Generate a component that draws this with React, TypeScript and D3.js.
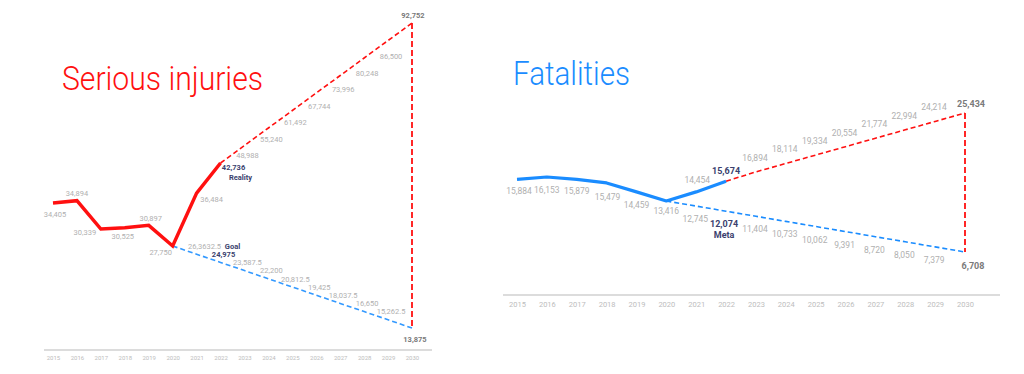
import React, {useEffect, useRef} from 'react';
import * as d3 from 'd3';

// axis years
const years = [2015, 2016, 2017, 2018, 2019, 2020, 2021, 2022, 2023, 2024, 2025, 2026, 2027, 2028, 2029, 2030];

// serious injuries
const injuryHistory = [34405, 34894, 30339, 30525, 30897, 27750, 36484, 42736]; // 2015-2022
const injuryTrend = [42736, 48988, 55240, 61492, 67744, 73996, 80248, 86500, 92752]; // 2022-2030
const injuryGoal = [27750, 26362.5, 24975, 23587.5, 22200, 20812.5, 19425, 18037.5, 16650, 15262.5, 13875]; // 2020-2030
// the source slide prints the 2021 goal value this way
const injuryGoalLabels = ['', '26,3632.5', '24,975', '23,587.5', '22,200', '20,812.5', '19,425', '18,037.5', '16,650', '15,262.5', '13,875'];

// fatalities
const fatalityHistory = [15884, 16153, 15879, 15479, 14459, 13416, 14454, 15674]; // 2015-2022
const fatalityTrend = [15674, 16894, 18114, 19334, 20554, 21774, 22994, 24214, 25434]; // 2022-2030
const fatalityMeta = [13416, 12745, 12074, 11404, 10733, 10062, 9391, 8720, 8050, 7379, 6708]; // 2020-2030

// label nudges for the solid lines (label centre relative to point)
const injuryLabelNudge: [number, number][] = [[2, 11], [0, -7], [-16, 3], [-2, 9], [2, -7], [-12, 6], [15, 6], [13, 4]];
const fatalityLabelNudge: [number, number][] = [[2, 12], [0, 13], [0, 12], [1, 14], [0, 13], [0, 10], [1, -12], [0, -10]];

const RED = '#ff1010';
const BLUE = '#1a8cff';
const LIGHT_BLUE = '#3399ff';
const NAVY = '#3b3f6e';
const GRAY = '#b0b0b0';
const DARK_GRAY = '#7a7a7a';
const AXIS = '#dcdcdc';
const FONT = 'Roboto, "Open Sans", sans-serif';

const fmt = d3.format(',');

type Pt = [number, number];

const Axis: React.FC<{
  x: d3.ScaleLinear<number, number>;
  y: number;
  x0: number;
  x1: number;
  size: number;
  pad: number;
}> = ({x, y, x0, x1, size, pad}) => {
  const ref = useRef<SVGGElement>(null);
  useEffect(() => {
    if (!ref.current) return;
    const g = d3.select(ref.current);
    g.selectAll('*').remove();
    g.call(
      d3
        .axisBottom(x)
        .tickValues(years)
        .tickFormat(d3.format('d'))
        .tickSize(0)
        .tickPadding(pad),
    );
    g.select('.domain').remove();
    g.selectAll('text')
      .attr('fill', '#bdbdbd')
      .attr('font-size', size)
      .attr('font-family', FONT);
  }, [x, size, pad]);
  return (
    <g>
      <line x1={x0} x2={x1} y1={y} y2={y} stroke={AXIS} strokeWidth={2} />
      <g ref={ref} transform={`translate(0,${y})`} />
    </g>
  );
};

const SeriousInjuries = () => {
  const x = d3.scaleLinear().domain([2015, 2030]).range([53, 412]);
  const y = d3
    .scaleLinear()
    .domain([13875, 27750, 34000, 42736, 92752])
    .range([328, 246, 205, 163, 23]);
  const line = d3
    .line<Pt>()
    .x((d) => x(d[0]))
    .y((d) => y(d[1]));

  const hist: Pt[] = injuryHistory.map((v, i) => [years[i], v]);
  const trend: Pt[] = injuryTrend.map((v, i) => [years[i + 7], v]);
  const goal: Pt[] = injuryGoal.map((v, i) => [years[i + 5], v]);
  const last = years[years.length - 1];

  return (
    <g fontFamily={FONT}>
      <text x={62} y={90} fontSize={34} fontWeight={300} fill={RED} textLength={201} lengthAdjust="spacingAndGlyphs">
        Serious injuries
      </text>
      <Axis x={x} y={350} x0={44} x1={432} size={6} pad={6} />

      <path d={line(goal) || ''} fill="none" stroke={LIGHT_BLUE} strokeWidth={1.6} strokeDasharray="5 3" />
      <path d={line(trend) || ''} fill="none" stroke={RED} strokeWidth={1.6} strokeDasharray="5 3" />
      <path
        d={line([[last, injuryTrend[injuryTrend.length - 1]], [last, injuryGoal[injuryGoal.length - 1]]]) || ''}
        fill="none"
        stroke={RED}
        strokeWidth={1.8}
        strokeDasharray="6 3"
      />
      <path d={line(hist) || ''} fill="none" stroke={RED} strokeWidth={3.5} strokeLinejoin="miter" />

      {/* history labels */}
      {hist.map((d, i) => {
        const bold = i === hist.length - 1;
        return (
          <text
            key={`h${i}`}
            x={x(d[0]) + injuryLabelNudge[i][0]}
            y={y(d[1]) + injuryLabelNudge[i][1]}
            textAnchor="middle"
            dominantBaseline="central"
            fontSize={7.5}
            fontWeight={bold ? 700 : 400}
            fill={bold ? NAVY : GRAY}
          >
            {fmt(d[1])}
          </text>
        );
      })}
      <text x={x(2022) + 20} y={y(42736) + 14} textAnchor="middle" dominantBaseline="central" fontSize={7.5} fontWeight={700} fill={NAVY}>
        Reality
      </text>

      {/* trend labels, drifting further below the line as it climbs */}
      {trend.slice(1, -1).map((d, i) => (
        <text key={`t${i}`} x={x(d[0]) + 3} y={y(d[1]) + 10 + i} textAnchor="middle" dominantBaseline="central" fontSize={7.5} fill={GRAY}>
          {fmt(d[1])}
        </text>
      ))}
      <text x={x(last) + 1} y={y(92752) - 8} textAnchor="middle" dominantBaseline="central" fontSize={7.5} fontWeight={700} fill={DARK_GRAY}>
        {fmt(92752)}
      </text>

      {/* goal labels */}
      {goal.slice(1, -1).map((d, i) => {
        const bold = d[0] === 2022;
        return (
          <text
            key={`g${i}`}
            x={x(d[0]) + (i === 0 ? 8 : 3)}
            y={y(d[1]) - 8}
            textAnchor="middle"
            dominantBaseline="central"
            fontSize={7.5}
            fontWeight={bold ? 700 : 400}
            fill={bold ? NAVY : GRAY}
          >
            {injuryGoalLabels[i + 1]}
          </text>
        );
      })}
      <text x={x(2022) + 12} y={y(24975) - 16} textAnchor="middle" dominantBaseline="central" fontSize={7.5} fontWeight={700} fill={NAVY}>
        Goal
      </text>
      <text x={x(last) + 3} y={y(13875) + 11} textAnchor="middle" dominantBaseline="central" fontSize={7.5} fontWeight={700} fill={DARK_GRAY}>
        {injuryGoalLabels[injuryGoalLabels.length - 1]}
      </text>
    </g>
  );
};

const Fatalities = () => {
  const x = d3.scaleLinear().domain([2015, 2030]).range([517, 965]);
  const y = d3
    .scaleLinear()
    .domain([6708, 13416, 16153, 25434])
    .range([252, 201, 177, 113]);
  const line = d3
    .line<Pt>()
    .x((d) => x(d[0]))
    .y((d) => y(d[1]));

  const hist: Pt[] = fatalityHistory.map((v, i) => [years[i], v]);
  const trend: Pt[] = fatalityTrend.map((v, i) => [years[i + 7], v]);
  const meta: Pt[] = fatalityMeta.map((v, i) => [years[i + 5], v]);
  const last = years[years.length - 1];

  return (
    <g fontFamily={FONT}>
      <text x={513} y={85} fontSize={34} fontWeight={300} fill={BLUE} textLength={117} lengthAdjust="spacingAndGlyphs">
        Fatalities
      </text>
      <Axis x={x} y={295} x0={503} x1={1000} size={7.5} pad={7} />

      <path d={line(meta) || ''} fill="none" stroke={BLUE} strokeWidth={1.6} strokeDasharray="5 3" />
      <path d={line(trend) || ''} fill="none" stroke={RED} strokeWidth={1.6} strokeDasharray="5 3" />
      <path
        d={line([[last, fatalityTrend[fatalityTrend.length - 1]], [last, fatalityMeta[fatalityMeta.length - 1]]]) || ''}
        fill="none"
        stroke={RED}
        strokeWidth={1.8}
        strokeDasharray="6 3"
      />
      <path d={line(hist) || ''} fill="none" stroke={BLUE} strokeWidth={3.2} strokeLinejoin="round" />

      {hist.map((d, i) => {
        const bold = i === hist.length - 1;
        return (
          <text
            key={`h${i}`}
            x={x(d[0]) + fatalityLabelNudge[i][0]}
            y={y(d[1]) + fatalityLabelNudge[i][1]}
            textAnchor="middle"
            dominantBaseline="central"
            fontSize={bold ? 9 : 8.5}
            fontWeight={bold ? 700 : 400}
            fill={bold ? NAVY : GRAY}
          >
            {fmt(d[1])}
          </text>
        );
      })}

      {trend.slice(1, -1).map((d, i) => (
        <text key={`t${i}`} x={x(d[0]) - 1} y={y(d[1]) - 14} textAnchor="middle" dominantBaseline="central" fontSize={8.5} fill={GRAY}>
          {fmt(d[1])}
        </text>
      ))}
      <text x={x(last) + 6} y={y(25434) - 9} textAnchor="middle" dominantBaseline="central" fontSize={9} fontWeight={700} fill={DARK_GRAY}>
        {fmt(25434)}
      </text>

      {meta.slice(1, -1).map((d, i) => {
        const bold = d[0] === 2022;
        return (
          <text
            key={`m${i}`}
            x={x(d[0]) - (bold ? 2 : 1)}
            y={y(d[1]) + 13}
            textAnchor="middle"
            dominantBaseline="central"
            fontSize={bold ? 9 : 8.5}
            fontWeight={bold ? 700 : 400}
            fill={bold ? NAVY : GRAY}
          >
            {fmt(d[1])}
          </text>
        );
      })}
      <text x={x(2022) - 2} y={y(12074) + 24} textAnchor="middle" dominantBaseline="central" fontSize={9} fontWeight={700} fill={NAVY}>
        Meta
      </text>
      <text x={x(last) + 8} y={y(6708) + 14} textAnchor="middle" dominantBaseline="central" fontSize={9} fontWeight={700} fill={DARK_GRAY}>
        {fmt(6708)}
      </text>
    </g>
  );
};

export default function App() {
  return (
    <svg width={1024} height={374} style={{position: 'absolute', left: 0, top: 0, background: '#fff'}}>
      <SeriousInjuries />
      <Fatalities />
    </svg>
  );
}
